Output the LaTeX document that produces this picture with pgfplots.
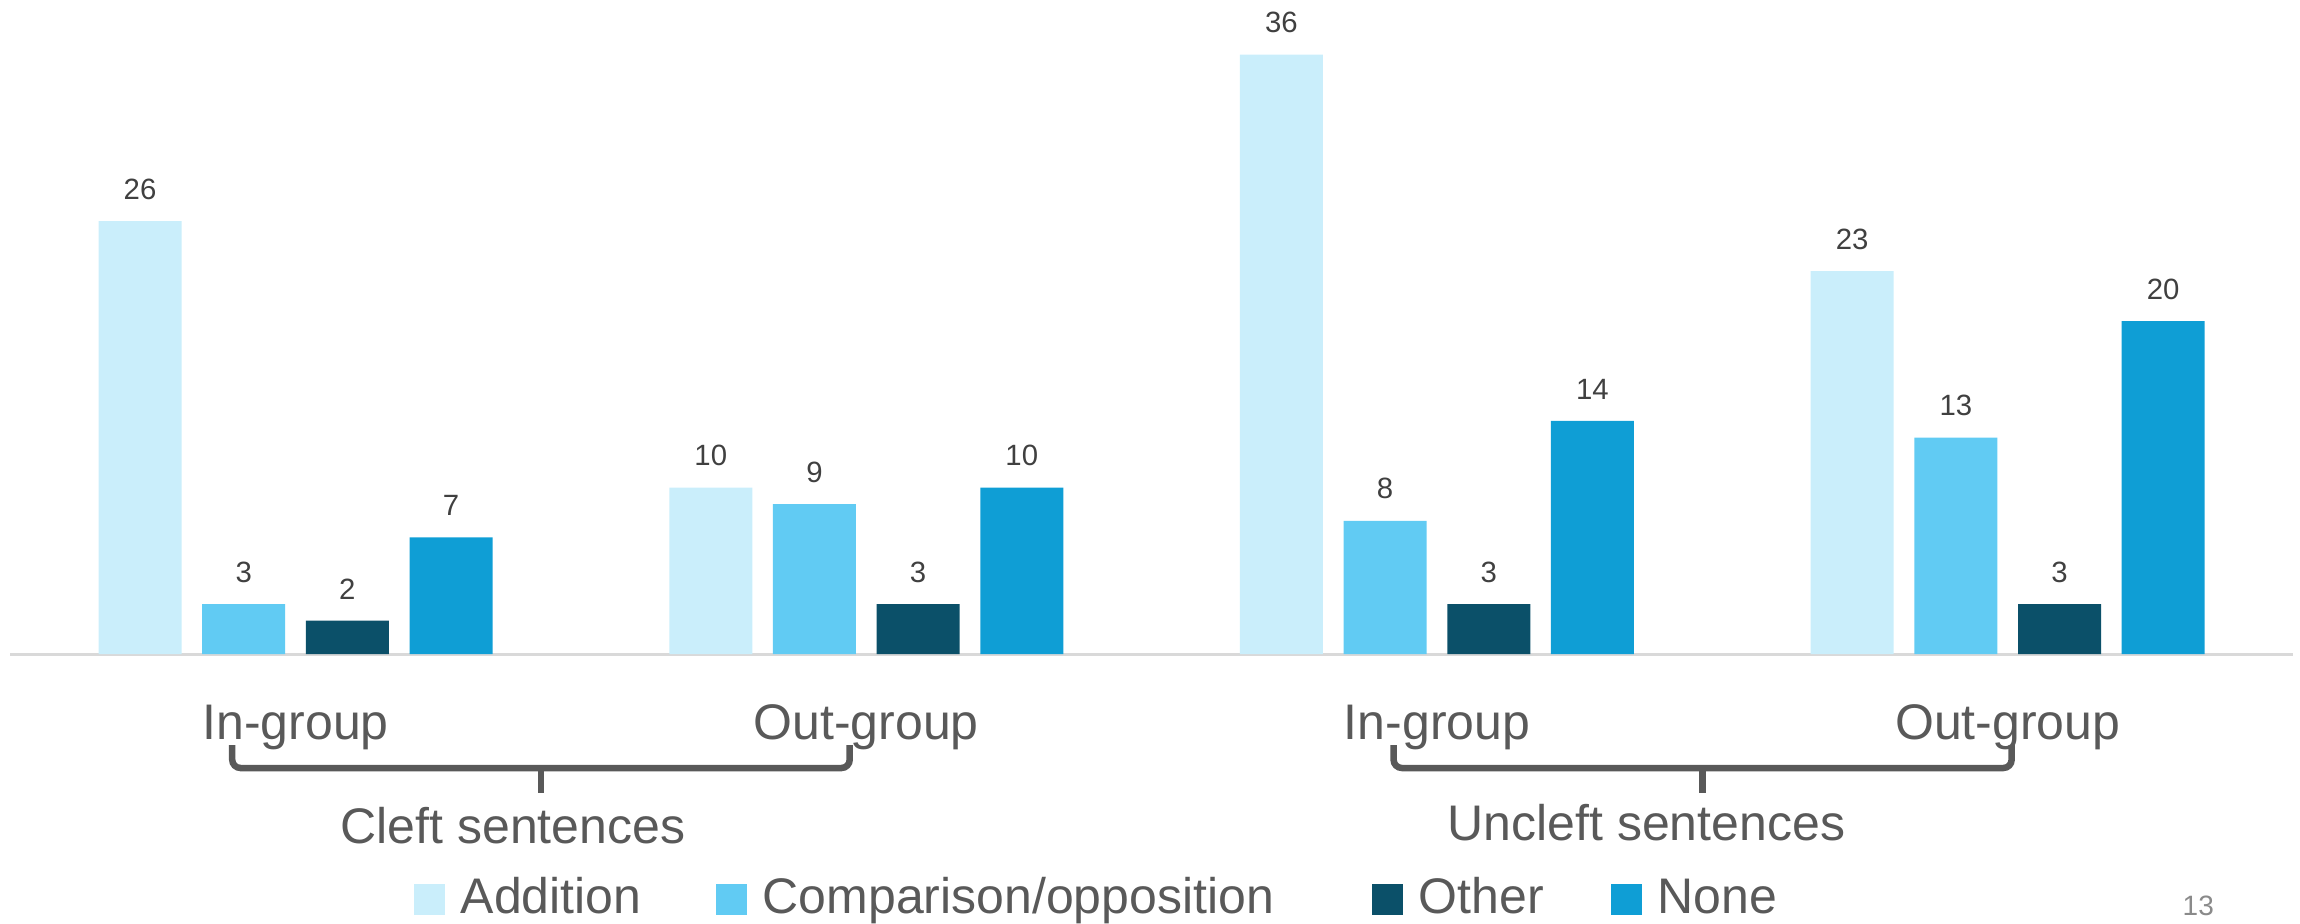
\documentclass[border=0pt]{standalone}
\usepackage{fontspec}
\setmainfont{Liberation Sans}
\usepackage{pgfplots}
\pgfplotsset{compat=1.18}
\definecolor{cAdd}{HTML}{CAEEFB}
\definecolor{cCmp}{HTML}{61CBF3}
\definecolor{cOth}{HTML}{0B5069}
\definecolor{cNon}{HTML}{0F9ED5}
\definecolor{cTxt}{HTML}{595959}
\definecolor{cLbl}{HTML}{404040}
\definecolor{cAx}{HTML}{D9D9D9}
\definecolor{cPg}{HTML}{8A8A8A}
\begin{document}
\begin{tikzpicture}
\begin{axis}[
  at={(3.06pt,80.7pt)}, anchor=south west,
  scale only axis, width=684.84pt, height=196.2pt,
  xmin=-0.5, xmax=3.5, ymin=0, ymax=39.28,
  enlargelimits=false, clip=false,
  ybar=6.2pt, bar width=24.9pt,
  axis x line*=bottom, axis y line=none,
  x axis line style={draw=cAx, line width=0.9pt},
  xtick={0,1,2,3},
  xticklabels={In-group,Out-group,In-group,Out-group},
  major tick length=0pt,
  xticklabel style={anchor=base, yshift=-25.5pt, inner sep=0pt,
    font=\fontsize{15}{18}\selectfont, text=cTxt},
  /pgf/number format/assume math mode=true,
  nodes near coords,
  every node near coord/.append style={anchor=south, inner sep=0pt, yshift=6.3pt,
    font=\fontsize{8.8}{10}\selectfont, text=cLbl},
  legend columns=4,
  legend image code/.code={\fill[#1,draw=none] (0pt,-0.6pt) rectangle (9.3pt,8.7pt);},
  legend style={draw=none, fill=none, inner sep=0pt, outer sep=0pt,
    at={(0.1769,-0.4139)}, anchor=south west,
    font=\fontsize{15}{18}\selectfont, text=cTxt,
    column sep=0pt,
    cells={anchor=base west, inner sep=0pt},
    /tikz/every odd column/.append style={column sep=2.7pt}},
]
\addplot[fill=cAdd, draw=none] coordinates {(0,26) (1,10) (2,36) (3,23)};
\addlegendentry{\makebox[74.6pt][l]{Addition}}
\addplot[fill=cCmp, draw=none] coordinates {(0,3) (1,9) (2,8) (3,13)};
\addlegendentry{\makebox[180.8pt][l]{Comparison/opposition}}
\addplot[fill=cOth, draw=none] coordinates {(0,2) (1,3) (2,3) (3,3)};
\addlegendentry{\makebox[55.7pt][l]{Other}}
\addplot[fill=cNon, draw=none] coordinates {(0,7) (1,10) (2,14) (3,20)};
\addlegendentry{None}

\draw[cTxt, line width=1.95pt, rounded corners=2.5pt]
  ([yshift=-27.3pt]axis cs:-0.111,0) -- ([yshift=-34.2pt]axis cs:-0.111,0)
  -- ([yshift=-34.2pt]axis cs:0.971,0) -- ([yshift=-27.3pt]axis cs:0.971,0);
\draw[cTxt, line width=1.95pt]
  ([yshift=-34.2pt]axis cs:0.430,0) -- ([yshift=-41.7pt]axis cs:0.430,0);
\draw[cTxt, line width=1.95pt, rounded corners=2.5pt]
  ([yshift=-27.3pt]axis cs:1.924,0) -- ([yshift=-34.2pt]axis cs:1.924,0)
  -- ([yshift=-34.2pt]axis cs:3.007,0) -- ([yshift=-27.3pt]axis cs:3.007,0);
\draw[cTxt, line width=1.95pt]
  ([yshift=-34.2pt]axis cs:2.465,0) -- ([yshift=-41.7pt]axis cs:2.465,0);
\node[anchor=base, inner sep=0pt, font=\fontsize{15}{18}\selectfont, text=cTxt]
  at ([yshift=-56.7pt]axis cs:0.381,0) {Cleft sentences};
\node[anchor=base, inner sep=0pt, font=\fontsize{15}{18}\selectfont, text=cTxt]
  at ([yshift=-55.8pt]axis cs:2.367,0) {Uncleft sentences};
\end{axis}
\node[anchor=base west, inner sep=0pt, font=\fontsize{8.4}{10}\selectfont, text=cPg]
  at (654.6pt,2.4pt) {13};
\pgfresetboundingbox
\useasboundingbox (0,0) rectangle (690pt,276.9pt);
\end{tikzpicture}
\end{document}
